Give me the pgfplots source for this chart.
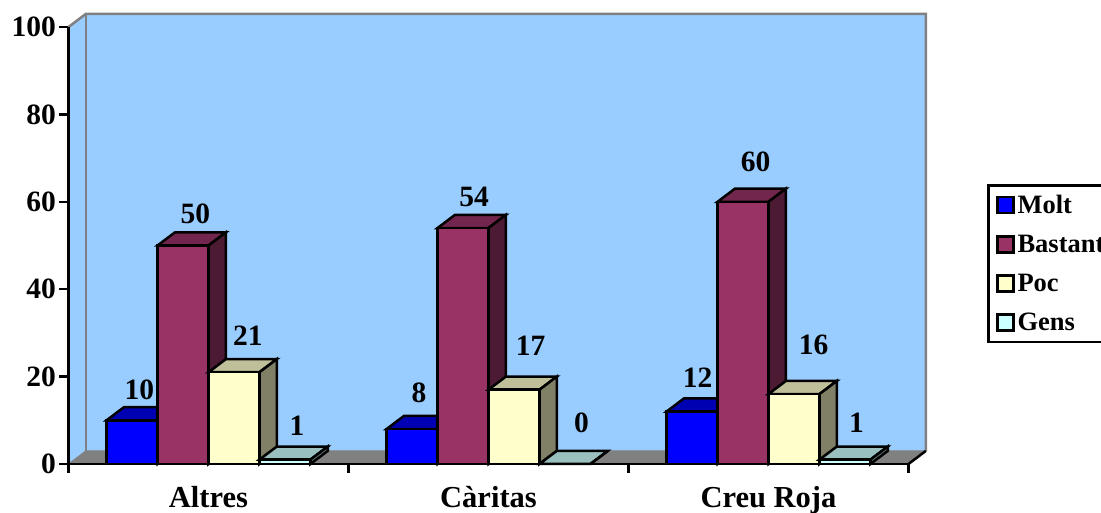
\documentclass[border=0pt]{standalone}
\usepackage{fontspec}
\setmainfont{Liberation Serif}
\usepackage{pgfplots}
\pgfplotsset{compat=1.18}
\definecolor{wall}{HTML}{99CCFF}
\definecolor{floorc}{HTML}{808080}
\definecolor{molt}{HTML}{0000FF}
\definecolor{molttop}{HTML}{0000B3}
\definecolor{moltside}{HTML}{000080}
\definecolor{bast}{HTML}{993366}
\definecolor{basttop}{HTML}{73264D}
\definecolor{bastside}{HTML}{4D1A33}
\definecolor{poc}{HTML}{FFFFCC}
\definecolor{poctop}{HTML}{BFBF99}
\definecolor{pocside}{HTML}{808066}
\definecolor{gens}{HTML}{CCFFFF}
\definecolor{genstop}{HTML}{99BFBF}
\definecolor{gensside}{HTML}{668080}
\newcommand\bigbf{\fontsize{29.5}{32}\selectfont\bfseries}
% top and side face of one bar: x0, x1, x0 back, x1 back, value, value back, colours
\newcommand\faces[8]{%
  \addplot[forget plot, draw=black, line width=2.5pt, fill=#7] coordinates {(#1,#5) (#2,#5) (#4,#6) (#3,#6)} --cycle;
  \addplot[forget plot, draw=black, line width=2.5pt, fill=#8] coordinates {(#2,0) (#2,#5) (#4,#6) (#4,3)} --cycle;
}
\pgfplotsset{
  bar3d/.style={
    ybar, bar width=51pt, bar shift=#1, draw=black, line width=2.5pt,
    legend image code/.code={
      \draw[##1, line width=2.5pt, draw=black] (0pt,-8pt) rectangle (16pt,8pt);
      \path[draw=none, fill=none] (0pt,0pt) -- (18pt,0pt);},
    visualization depends on={\thisrow{lx} \as \lx},
    visualization depends on={\thisrow{ly} \as \ly},
    nodes near coords,
    every node near coord/.style={font=\bigbf, anchor=south, inner sep=0pt, xshift=\lx pt, yshift=\ly pt, black,
      /pgf/number format/assume math mode=true},
  }
}
\begin{document}
\begin{tikzpicture}
\useasboundingbox (-68.5pt,-49pt) rectangle (1032.5pt,464pt);
\begin{axis}[
  scale only axis,
  width=840pt, height=437pt,
  xmin=0, xmax=3, ymin=0, ymax=100,
  clip=false,
  axis on top,
  axis lines=left,
  axis line style={-, line width=2.5pt, black},
  tick align=outside,
  tick style={line width=2.5pt, black},
  major tick length=9pt,
  xtick={0,1,2,3}, xticklabels={},
  extra x ticks={0.5,1.5,2.5},
  extra x tick labels={Altres,Càritas,Creu Roja},
  extra x tick style={major tick length=0pt, tick label style={yshift=-19pt, font=\fontsize{30.5}{32}\selectfont\bfseries}},
  ytick={0,20,40,60,80,100},
  tick label style={font=\bigbf, /pgf/number format/assume math mode=true},
  legend style={
    at={(1.0935,0.6407)}, anchor=north west,
    draw=black, line width=2.5pt, font=\fontsize{26.5}{30}\selectfont\bfseries,
    legend cell align=left, row sep=16pt, inner xsep=8pt, inner ysep=8pt,
  },
]
% walls and floor
\addplot[forget plot, draw=none, fill=wall] coordinates {(0,0) (0.062,3) (3.062,3) (3.062,103) (0.062,103) (0,100)} --cycle;
\addplot[forget plot, draw=floorc, line width=2.5pt] coordinates {(0,100) (0.062,103) (3.062,103) (3.062,3)};
\addplot[forget plot, draw=floorc, line width=2.5pt] coordinates {(0.062,103) (0.062,3)};
\addplot[forget plot, draw=floorc, fill=floorc, line width=1pt] coordinates {(0,0) (3,0) (3.062,3) (0.062,3)} --cycle;
\addplot[forget plot, draw=black, line width=2.5pt] coordinates {(3,0) (3.062,3)};
% Molt
\faces{0.136}{0.318}{0.198}{0.380}{10}{13}{molttop}{moltside}
\faces{1.136}{1.318}{1.198}{1.380}{8}{11}{molttop}{moltside}
\faces{2.136}{2.318}{2.198}{2.380}{12}{15}{molttop}{moltside}
\addplot[bar3d=-76.5pt, fill=molt] table {
x y lx ly
0.5 10 -69 19
1.5 8 -69.5 25
2.5 12 -71 22.6
};
\addlegendentry{Molt}
% Bastant
\faces{0.318}{0.5}{0.380}{0.562}{50}{53}{basttop}{bastside}
\faces{1.318}{1.5}{1.380}{1.562}{54}{57}{basttop}{bastside}
\faces{2.318}{2.5}{2.380}{2.562}{60}{63}{basttop}{bastside}
\addplot[bar3d=-25.5pt, fill=bast] table {
x y lx ly
0.5 50 -13 20.5
1.5 54 -14.5 20
2.5 60 -13 28.8
};
\addlegendentry{Bastant}
% Poc
\faces{0.5}{0.682}{0.562}{0.744}{21}{24}{poctop}{pocside}
\faces{1.5}{1.682}{1.562}{1.744}{17}{20}{poctop}{pocside}
\faces{2.5}{2.682}{2.562}{2.744}{16}{19}{poctop}{pocside}
\addplot[bar3d=25.5pt, fill=poc] table {
x y lx ly
0.5 21 39.5 25
1.5 17 42 32.7
2.5 16 45 38
};
\addlegendentry{Poc}
% Gens
\faces{0.682}{0.864}{0.744}{0.926}{1}{4}{genstop}{gensside}
\faces{1.682}{1.864}{1.744}{1.926}{0}{3}{genstop}{gensside}
\faces{2.682}{2.864}{2.744}{2.926}{1}{4}{genstop}{gensside}
\addplot[bar3d=76.5pt, fill=gens] table {
x y lx ly
0.5 1 88.5 22.6
1.5 0 93 30
2.5 1 88 25.6
};
\addlegendentry{Gens}
\end{axis}
\end{tikzpicture}
\end{document}
